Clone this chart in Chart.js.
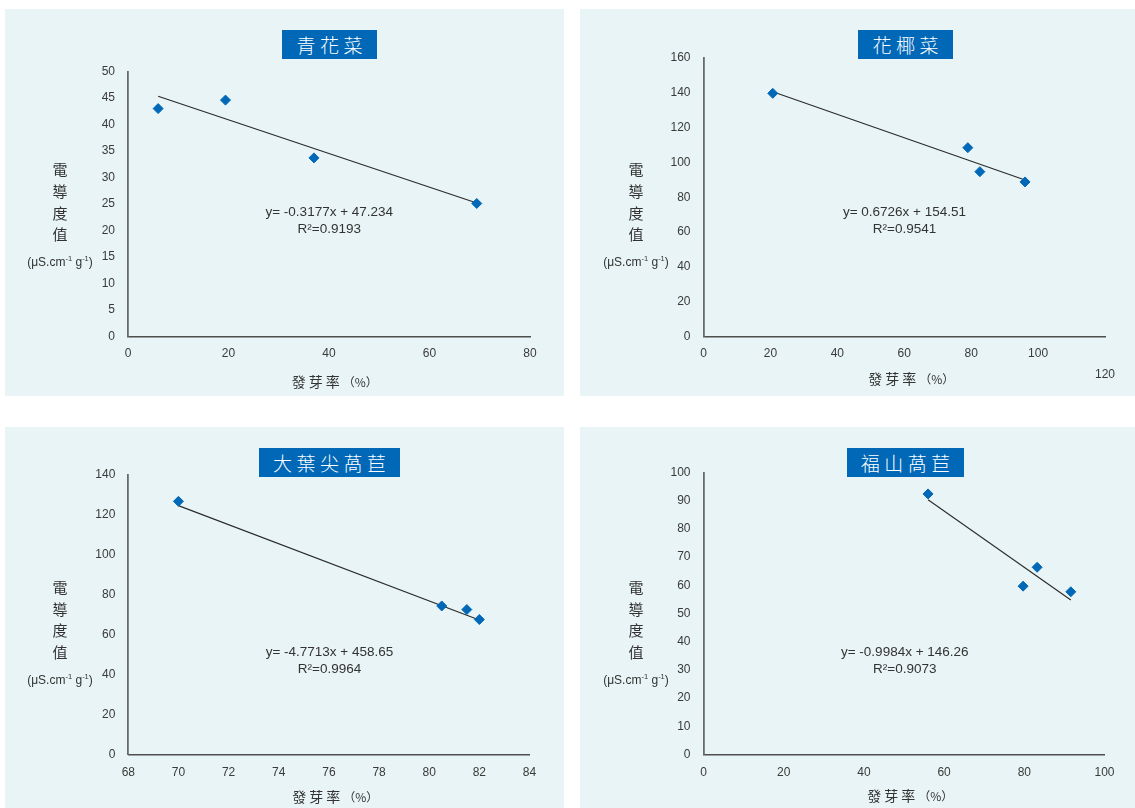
<!DOCTYPE html>
<html>
<head>
<meta charset="utf-8">
<script src="https://cdn.jsdelivr.net/npm/chart.js@4/dist/chart.umd.min.js"></script>
<style>
  html, body { margin: 0; padding: 0; background: #ffffff; }
  body { position: relative; width: 1135px; height: 808px; overflow: hidden;
         font-family: "Liberation Sans", Arial, sans-serif; color: #333; }
  .panel { position: absolute; background: #e8f4f5; }
  .panel canvas { position: absolute; left: 0; top: 0; }
  .ttl { position: absolute; background: #0068b7; color: #fff; box-sizing: border-box;
         font-family: "Noto Sans CJK TC", "Noto Sans CJK SC", sans-serif; font-size: 19px; font-weight: 300;
         letter-spacing: 4.5px; padding-left: 4.5px; display: flex; align-items: center; justify-content: center; }
  .ytitle { position: absolute; width: 30px; text-align: center; color: #333;
            font-family: "Noto Sans CJK TC", sans-serif; font-size: 15px; line-height: 21.7px; }
  .unit { position: absolute; width: 110px; text-align: center; color: #333; white-space: nowrap;
          font-family: "Liberation Sans", Arial, sans-serif; font-size: 12px; line-height: 14px; }
  .unit sup { font-size: 7.5px; vertical-align: 5px; line-height: 0; }
  .xtitle { position: absolute; white-space: nowrap; color: #333; line-height: 16px;
            font-family: "Noto Sans CJK TC", sans-serif; }
  .xtitle .cj { font-size: 14px; letter-spacing: 3px; }
  .xtitle .pc { font-size: 12px; }
  .eq { position: absolute; width: 220px; text-align: center; color: #333; white-space: nowrap;
        font-family: "Liberation Sans", Arial, sans-serif; font-size: 13.5px; line-height: 16px; }
</style>
</head>
<body>
<script>
// Seed conductivity (µS·cm⁻¹·g⁻¹) against germination rate (%) for four crops
const panelTitles = ['青花菜', '花椰菜', '大葉尖萵苣', '福山萵苣'];

const germBroccoli = [6.0, 19.4, 37.0, 69.4];
const ecBroccoli = [43.0, 44.6, 33.7, 25.1];

const germCauliflower = [20.7, 79.0, 82.6, 96.1];
const ecCauliflower = [139.7, 108.5, 94.7, 88.8];

const germLeafLettuce = [70.0, 80.5, 81.5, 82.0];
const ecLeafLettuce = [126.8, 74.4, 72.6, 67.6];

const germFushanLettuce = [56.0, 79.7, 83.2, 91.6];
const ecFushanLettuce = [92.4, 59.7, 66.4, 57.7];

// Fitted linear trendlines (slope, intercept) and their printed labels
const trendSlopes = [-0.3177, -0.6726, -4.7713, -0.9984];
const trendIntercepts = [47.234, 154.51, 458.65, 146.26];
const equationLabels = ['y= -0.3177x + 47.234', 'y= 0.6726x + 154.51', 'y= -4.7713x + 458.65', 'y= -0.9984x + 146.26'];
const r2Labels = ['R²=0.9193', 'R²=0.9541', 'R²=0.9964', 'R²=0.9073'];

// Axis ranges and tick steps
const xMins = [0, 0, 68, 0];
const xMaxs = [80, 120, 84, 100];
const xSteps = [20, 20, 2, 20];
const yMaxs = [50, 160, 140, 100];
const ySteps = [5, 20, 20, 10];
const droppedTickValues = [null, 120, null, null];   // tick label printed one row lower

const yTitleChars = ['電', '導', '度', '值'];
const xTitleText = '發芽率';

const seriesX = [germBroccoli, germCauliflower, germLeafLettuce, germFushanLettuce];
const seriesY = [ecBroccoli, ecCauliflower, ecLeafLettuce, ecFushanLettuce];

// ---- page layout (px) ----
const panelBoxes = [[5, 9, 559, 387], [580, 9, 555, 387], [5, 427, 559, 381], [580, 427, 555, 381]];
const plotAreas = [[128, 530, 71.5, 336.5], [703.5, 1105, 58, 336.5], [128.3, 529.5, 475, 754.5], [703.5, 1104.5, 472.5, 754.5]]; // left,right,top,bottom
const titleBoxes = [[282, 30, 95, 28.5], [858, 30, 95, 29], [259, 448, 141, 29], [847, 448, 117, 29]];
const yTitlePos = [[60, 169, 261.7], [636, 169, 261.7], [60, 586.7, 680], [636, 586.7, 680]];
const xTitlePos = [[291.7, 380], [868.3, 377], [292.3, 795], [867.3, 793.5]];
const eqPos = [[329.3, 212, 229.3], [904.5, 212, 229.3], [329.5, 651.7, 669.3], [904.8, 651.7, 669.3]];

const markerColor = '#0068b7';
const textColor = '#3a3a3a';

function addEl(cls, html, css) {
  const d = document.createElement('div');
  d.className = cls;
  d.innerHTML = html;
  Object.assign(d.style, css);
  document.body.appendChild(d);
  return d;
}

panelTitles.forEach((title, i) => {
  const [px, py, pw, ph] = panelBoxes[i];
  const [L, R, T, B] = plotAreas[i];

  const panel = addEl('panel', '', { left: px + 'px', top: py + 'px', width: pw + 'px', height: ph + 'px' });
  const canvas = document.createElement('canvas');
  canvas.width = pw; canvas.height = ph;
  canvas.style.width = pw + 'px'; canvas.style.height = ph + 'px';
  panel.appendChild(canvas);

  const pts = seriesX[i].map((x, k) => ({ x, y: seriesY[i][k] }));
  const xs = seriesX[i];
  const x0 = Math.min(...xs), x1 = Math.max(...xs);
  const trend = [x0, x1].map(x => ({ x, y: trendSlopes[i] * x + trendIntercepts[i] }));

  const dropped = droppedTickValues[i];
  const xLineHeight = dropped !== null ? 1.75 : 1.2;
  const xLabelPad = dropped !== null ? 7 : (i < 2 ? 10.3 : 11);

  new Chart(canvas, {
    type: 'scatter',
    data: {
      datasets: [
        { data: pts, pointStyle: 'rectRot', pointRadius: 5, pointHoverRadius: 5,
          backgroundColor: markerColor, borderColor: markerColor, borderWidth: 1 },
        { data: trend, showLine: true, pointRadius: 0, borderColor: '#2a2a2a', borderWidth: 1.1, fill: false }
      ]
    },
    options: {
      responsive: false,
      animation: false,
      devicePixelRatio: 1,
      layout: { padding: { left: 0, top: T - py, right: px + pw - R, bottom: 0 } },
      plugins: { legend: { display: false }, tooltip: { enabled: false }, title: { display: false } },
      scales: {
        x: {
          type: 'linear', min: xMins[i], max: xMaxs[i],
          grid: { display: false, drawTicks: false },
          border: { display: true, color: '#4e4e4e', width: 1.4 },
          ticks: {
            stepSize: xSteps[i], autoSkip: false, maxRotation: 0, color: textColor,
            padding: xLabelPad,
            font: { family: '"Liberation Sans", Arial, sans-serif', size: 12, lineHeight: xLineHeight },
            callback: v => (v === dropped ? ['', String(v)] : String(v))
          },
          afterFit: s => { s.height = py + ph - B; }
        },
        y: {
          type: 'linear', min: 0, max: yMaxs[i],
          grid: { display: false, drawTicks: false },
          border: { display: true, color: '#6a6a6a', width: 1.8 },
          ticks: {
            stepSize: ySteps[i], autoSkip: false, color: textColor, padding: 13,
            font: { family: '"Liberation Sans", Arial, sans-serif', size: 12 }
          },
          afterFit: s => { s.width = L - px; }
        }
      }
    }
  });

  // title box
  const [tx, ty, tw, th] = titleBoxes[i];
  addEl('ttl', title, { left: tx + 'px', top: ty + 'px', width: tw + 'px', height: th + 'px' });

  // vertical y-axis title and unit
  const [yx, yy, uy] = yTitlePos[i];
  addEl('ytitle', yTitleChars.join('<br>'), { left: (yx - 15) + 'px', top: (yy - 10.85) + 'px' });
  addEl('unit', '(μS.cm<sup>-1</sup> g<sup>-1</sup>)', { left: (yx - 55) + 'px', top: (uy - 7) + 'px' });

  // x-axis title
  const [xx, xy] = xTitlePos[i];
  addEl('xtitle', '<span class="cj">' + xTitleText + '</span><span class="pc">（%）</span>',
        { left: xx + 'px', top: (xy - 8) + 'px' });

  // regression equation
  const [ex, ey1, ey2] = eqPos[i];
  addEl('eq', equationLabels[i], { left: (ex - 110) + 'px', top: (ey1 - 8) + 'px' });
  addEl('eq', r2Labels[i], { left: (ex - 110) + 'px', top: (ey2 - 8) + 'px' });
});
</script>
</body>
</html>
